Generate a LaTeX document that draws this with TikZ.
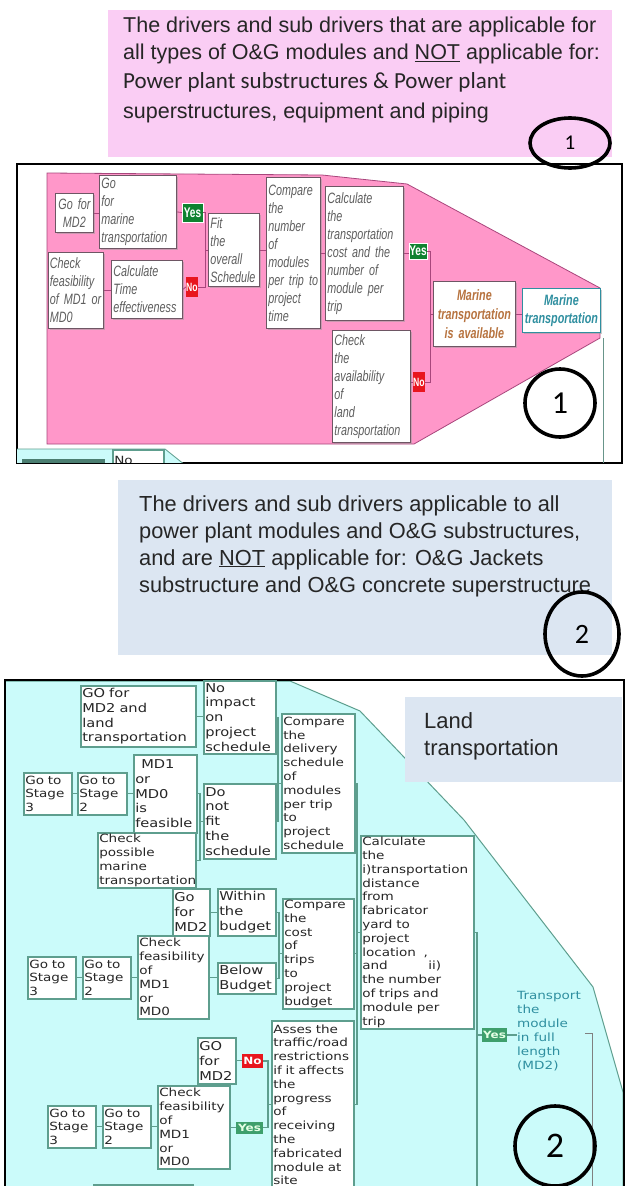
\documentclass[tikz,border=0pt]{standalone}
\usepackage{fontspec}
\setmainfont{Liberation Sans}
\newfontfamily\fuentec{Carlito}
\newfontfamily\fuenteuno{Liberation Sans}[FakeStretch=0.72]
\newfontfamily\fuentedos{DejaVu Sans}[FakeStretch=1.2]
\usetikzlibrary{positioning,shapes.geometric,shadows}
\definecolor{crosa}{HTML}{FACDF4}
\definecolor{crosab}{HTML}{FF97C9}
\definecolor{crosal}{HTML}{A8467C}
\definecolor{cazul}{HTML}{DCE6F2}
\definecolor{ccian}{HTML}{CBFBFA}
\definecolor{cverdeb}{HTML}{5E9E8E}
\definecolor{csi}{HTML}{0F8230}
\definecolor{csib}{HTML}{3E9F6C}
\definecolor{cno}{HTML}{E8161E}
\definecolor{cmarron}{HTML}{B7733F}
\definecolor{cteal}{HTML}{2F8FA0}
\definecolor{ctexto}{HTML}{5E5E5E}
\definecolor{cborde}{HTML}{6E5664}
\tikzset{
  marco/.style={draw=black,line width=2.4pt},
  nota/.style={anchor=north west,inner sep=0pt},
  notatexto/.style={anchor=north west,inner sep=0pt,align=left,text=black!85,
                    font=\fontsize{21.8}{27}\selectfont},
  circulo/.style={draw=black,line width=3.6pt,ellipse,inner sep=0pt},
  tam/.style 2 args={text width=#1pt,minimum height=#2pt},
  caja/.style={draw=cborde,fill=white,line width=0.8pt,anchor=north west,
               inner xsep=2pt,inner ysep=1pt,align=left,text=ctexto,
               drop shadow={shadow xshift=1.2pt,shadow yshift=-1.2pt,fill=black!40},
               font=\fuenteuno\itshape\fontsize{15}{18}\selectfont},
  cajav/.style={draw=cverdeb,fill=white,line width=1.5pt,anchor=north west,
                inner xsep=1.5pt,inner ysep=0pt,align=left,text=black!85,
                font=\fuentedos\fontsize{11.3}{13.8}\selectfont},
  cajavg/.style={cajav,font=\fuentedos\fontsize{12.2}{14.8}\selectfont},
  etsi/.style={fill=csi,draw=white,line width=0.4pt,text=white,inner sep=0pt,
               font=\fuenteuno\bfseries\fontsize{14}{14}\selectfont},
  etno/.style={fill=cno,text=white,inner sep=0pt,
               font=\fuenteuno\bfseries\fontsize{12}{12}\selectfont},
  etsiv/.style={fill=csib,text=green!10,inner sep=0pt,
                font=\fuentedos\bfseries\fontsize{10}{10}\selectfont},
  etnov/.style={fill=cno,text=white,inner sep=0pt,
                font=\fuentedos\bfseries\fontsize{10}{10}\selectfont},
  enl/.style={draw=crosal,line width=0.8pt},
  enlv/.style={draw=cverdeb,line width=1.2pt},
}
\begin{document}
\begin{tikzpicture}[x=1pt,y=-1pt]
\useasboundingbox (0,0) rectangle (627,1186);

% nota superior 1
\node[nota,fill=crosa,minimum width=504pt,minimum height=147pt] (nota1) at (108,10) {};
\node[notatexto,font=\fontsize{21.5}{27}\selectfont] (txt1) at (123,16.5) {The drivers and sub drivers that are applicable for\\
  all types of O\&G modules and \underline{NOT} applicable for:\\[2pt]
  \fuentec\fontsize{23}{27}\selectfont Power plant substructures \& Power plant\\[3pt]
  superstructures, equipment and piping};

% marco 1
\draw[marco] (17,164) rectangle (622,463);
\draw[fill=crosab,draw=crosal,line width=0.8pt] (47,173) -- (322,175) -- (407,184) -- (600,288)
  -- (600,338) -- (414,444) -- (47,444) -- cycle;
\begin{scope}
  \clip (17,163) rectangle (622,462);
  \fill[ccian] (17,449) -- (165,449) -- (185,465) -- (17,465) -- cycle;
  \draw[cverdeb,line width=0.8pt] (17,449) -- (165,449) -- (185,465);
  \node[cajav,tam={48}{22}] (nostub) at (112,449) {No};
  \fill[cverdeb!80!black] (22,459) rectangle (105,470);
\end{scope}
\draw[cverdeb!70!gray,line width=0.8pt] (603,338) -- (603,463);

\node[caja,tam={34}{39},align=center] (gomd) at (55,193) {Go for\\MD2};
\node[caja,tam={73}{73}] (gomar) at (99,175) {Go\\for\\marine\\transportation};
\node[caja,tam={52}{76},inner xsep=1.5pt] (chk1) at (48,252) {Check\\feasibility\\of MD1 or\\MD0};
\node[caja,tam={67}{58}] (caltime) at (111,260) {Calculate\\Time\\effectiveness};
\node[caja,tam={47}{73}] (fit) at (208,213) {Fit\\the\\overall\\Schedule};
\node[caja,tam={50}{151}] (cmpn) at (266,177) {Compare\\the\\number\\of\\modules\\per trip to\\project\\time};
\node[caja,tam={74}{134}] (caltr) at (325,186) {Calculate\\the\\transportation\\cost and the\\number of\\module per\\trip};
\node[caja,tam={74}{112}] (chkland) at (332,330) {Check\\the\\availability\\of\\land\\transportation};
\node[caja,tam={78}{65},align=center,text=cmarron,font=\fuenteuno\bfseries\itshape\fontsize{15}{19}\selectfont] (mardisp) at (433,281) {Marine\\transportation\\is available};
\node[caja,tam={74}{44},align=center,draw=cteal,text=cteal,font=\fuenteuno\bfseries\itshape\fontsize{15}{18}\selectfont] (martr) at (522,288) {Marine\\transportation};

\node[etsi,minimum width=21pt,minimum height=19pt] (si1) at (192.5,212.5) {Yes};
\node[etno,minimum width=12pt,minimum height=20pt] (no1) at (192,287) {No};
\node[etsi,minimum width=18pt,minimum height=16pt] (si2) at (418,251) {Yes};
\node[etno,minimum width=12pt,minimum height=20pt] (no2) at (419,382) {No};

\draw[enl] (gomd.east) -- (gomd.east -| gomar.west);
\draw[enl] (gomar.east) -- (si1.west);
\draw[enl] (chk1.east) -- (chk1.east -| caltime.west);
\draw[enl] (caltime.east) -- (no1.west);
\draw[enl] (si1.east) -| ([xshift=-3pt]fit.west) -- (fit.west);
\draw[enl] (no1.east) -| ([xshift=-3pt]fit.west);
\draw[enl] (fit.east) -- (fit.east -| cmpn.west);
\draw[enl] (cmpn.east) -- (cmpn.east -| caltr.west);
\draw[enl] (caltr.east) -- (caltr.east -| si2.west);
\draw[enl] (si2.east) -| ([xshift=-3pt]mardisp.west) -- (mardisp.west);
\draw[enl] (no2.east) -| ([xshift=-3pt]mardisp.west);
\draw[enl] (no2.west -| chkland.east) -- (no2.west);
\draw[enl] (mardisp.east) -- (mardisp.east -| martr.west);

\node[circulo,minimum width=80pt,minimum height=50pt,font=\fuentec\fontsize{21}{21}\selectfont] (circ1) at (570,143) {1};
\node[circulo,minimum width=70pt,minimum height=68pt,font=\fuentec\fontsize{32}{32}\selectfont] (circ1b) at (560,403) {1};

% nota superior 2
\node[nota,fill=cazul,minimum width=494pt,minimum height=175pt] (nota2) at (118,480) {};
\node[notatexto] (txt2) at (139,495) {The drivers and sub drivers applicable to all\\
  power plant modules and O\&G substructures,\\
  and are \underline{NOT} applicable for: O\&G Jackets\\
  substructure and O\&G concrete superstructure};

% marco 2
\draw[fill=ccian,draw=cverdeb,line width=1pt] (5,681) -- (290,681) -- (360,711) -- (464,820)
  -- (593,987) -- (623,1092) -- (623,1195) -- (5,1195) -- cycle;
\draw[marco] (5,1195) -- (5,680) -- (624,680) -- (624,1195);
\node[nota,fill=cazul,minimum width=217pt,minimum height=85pt] (tierra) at (405,697) {};
\node[notatexto,font=\fontsize{22}{27}\selectfont] (tierratxt) at (424,712) {Land\\transportation};

\node[cajavg,tam={112}{61}] (golan) at (80,685) {GO for\\MD2 and\\land\\transportation};
\node[cajavg,tam={69}{73}] (noimp) at (203,680) {No\\impact\\on\\project\\schedule};
\node[cajav,tam={70}{139}] (cmpdel) at (281,713) {Compare\\the\\delivery\\schedule\\of\\modules\\per trip\\to\\project\\schedule};
\node[cajavg,tam={60}{78}] (feas) at (133,754) {\hspace*{6pt}MD1\\or\\MD0\\is\\feasible};
\node[cajav,tam={45}{42}] (st3a) at (23,772) {Go to\\Stage\\3};
\node[cajav,tam={46}{42}] (st2a) at (77,772) {Go to\\Stage\\2};
\node[cajavg,tam={69}{75}] (nofit) at (203,783) {Do\\not\\fit\\the\\schedule};
\node[cajav,tam={95}{55}] (chkmar) at (97,832) {Check\\possible\\marine\\transportation};
\node[cajavg,tam={34}{47}] (gomd2) at (172,888) {Go\\for\\MD2};
\node[cajavg,tam={55}{47}] (within) at (217,888) {Within\\the\\budget};
\node[cajav,tam={68}{110}] (cmpcost) at (282,898) {Compare\\the\\cost\\of\\trips\\to\\project\\budget};
\node[cajav,tam={68}{83}] (chkf2) at (137,935) {Check\\feasibility\\of\\MD1\\or\\MD0};
\node[cajavg,tam={55}{31}] (below) at (217,962) {Below\\Budget};
\node[cajav,tam={45}{42}] (st3b) at (27,956) {Go to\\Stage\\3};
\node[cajav,tam={45}{42}] (st2b) at (82,956) {Go to\\Stage\\2};
\node[cajav,tam={110}{193}] (calc) at (360,835) {Calculate\\the\\i)transportation\\distance\\from\\fabricator\\yard to\\project\\location\ \ ,\\and\hspace*{3.6em}ii)\\the number\\of trips and\\module per\\trip};
\node[cajav,tam={79}{168}] (asses) at (271,1020) {Asses the\\traffic/road\\restrictions\\if it affects\\the\\progress\\of\\receiving\\the\\fabricated\\module at\\site};
\node[cajavg,tam={35}{46}] (gomd3) at (197,1037) {GO\\for\\MD2};
\node[cajav,tam={69}{83}] (chkf3) at (157,1085) {Check\\feasibility\\of\\MD1\\or\\MD0};
\node[cajav,tam={45}{42}] (st3c) at (47,1105) {Go to\\Stage\\3};
\node[cajav,tam={45}{42}] (st2c) at (102,1105) {Go to\\Stage\\2};
\node[cajav,tam={96}{20}] (cortada) at (93,1184) {};

\node[etnov,minimum width=21pt,minimum height=14pt] (no3) at (252.5,1061) {No};
\node[etsiv,minimum width=27pt,minimum height=12pt] (si3) at (249.5,1127.5) {Yes};
\node[etsiv,minimum width=25pt,minimum height=14pt] (si4) at (494.5,1035) {Yes};
\node[anchor=north west,inner sep=0pt,align=left,text=cteal,
      font=\fuentedos\fontsize{11.3}{14}\selectfont] (trans) at (517,991) {Transport\\the\\module\\in full\\length\\(MD2)};

\draw[enlv] (golan.east) -- (golan.east -| noimp.west);
\draw[enlv] (noimp.east) -| ([xshift=-3pt]cmpdel.west) -- (cmpdel.west);
\draw[enlv] (nofit.east) -| ([xshift=-3pt]cmpdel.west);
\draw[enlv] (st3a.east) -- (st2a.west);
\draw[enlv] (st2a.east) -- (st2a.east -| feas.west);
\draw[enlv] (feas.east) -| ([xshift=-3pt]nofit.west) -- (nofit.west);
\draw[enlv] (chkmar.east) -| ([xshift=-3pt]nofit.west);
\draw[enlv] (gomd2.east) -- (within.west);
\draw[enlv] (chkf2.east) -- (chkf2.east -| below.west);
\draw[enlv] (within.east) -| ([xshift=-3pt]cmpcost.west) -- (cmpcost.west);
\draw[enlv] (below.east) -| ([xshift=-3pt]cmpcost.west);
\draw[enlv] (st3b.east) -- (st2b.west);
\draw[enlv] (st2b.east) -- (st2b.east -| chkf2.west);
\draw[enlv] (cmpdel.east) -| ([xshift=-3pt]calc.west) -- (calc.west);
\draw[enlv] (cmpcost.east) -| ([xshift=-3pt]calc.west);
\draw[enlv] (asses.east) -| ([xshift=-3pt]calc.west);
\coordinate (bajo) at (477,1195);
\draw[enlv] (calc.east) -| (bajo);
\draw[enlv] (si4.west) -- (si4.west -| bajo);
\draw[enlv] (si4.east) -- (si4.east -| trans.west);
\coordinate (tb) at (592,1033);
\draw[gray,line width=1pt] ([xshift=-7pt]tb) -- (tb) -- (tb |- bajo);
\draw[enlv] (gomd3.east) -- (gomd3.east -| no3.west);
\draw[enlv] (chkf3.east) -- (chkf3.east -| si3.west);
\draw[enlv] (no3.east) -| ([xshift=-3pt]asses.west) -- (asses.west);
\draw[enlv] (si3.east) -| ([xshift=-3pt]asses.west);
\draw[enlv] (st3c.east) -- (st2c.west);
\draw[enlv] (st2c.east) -- (st2c.east -| chkf3.west);

\node[circulo,minimum width=74pt,minimum height=84pt,font=\fuentec\fontsize{28}{28}\selectfont] (circ2) at (582,634) {2};
\node[circulo,minimum width=80pt,minimum height=80pt,font=\fuentec\fontsize{36}{36}\selectfont] (circ3) at (555,1146) {2};

\end{tikzpicture}
\end{document}
